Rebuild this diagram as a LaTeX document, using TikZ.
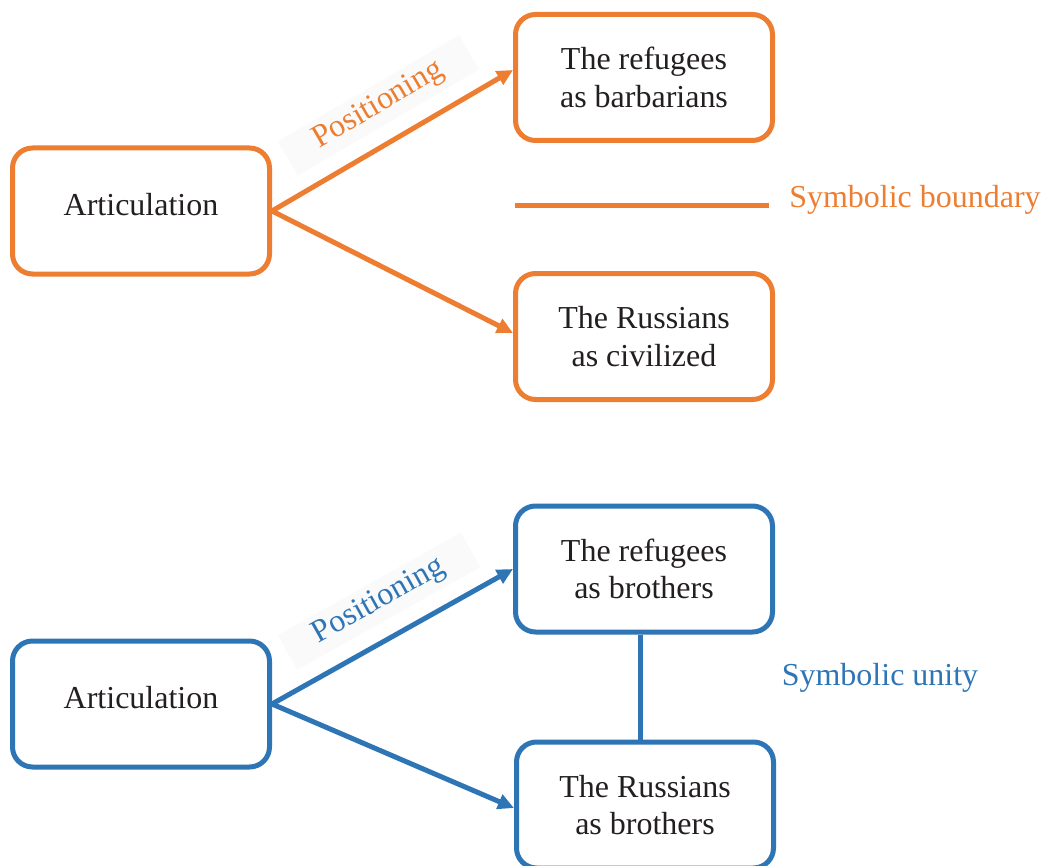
\documentclass[tikz,border=0pt]{standalone}
\usepackage{fontspec}
\setmainfont{Liberation Serif}
\usepackage{xcolor}
\definecolor{orng}{RGB}{237,125,49}
\definecolor{bleu}{RGB}{46,117,182}
\definecolor{txt}{RGB}{35,31,32}
\usetikzlibrary{arrows.meta,positioning}
\tikzset{
  box/.style={rectangle,rounded corners=0.4cm,line width=0.1cm,fill=white,
    minimum width=5.14cm,minimum height=2.52cm,text=txt,align=center,
    font=\fontsize{18.2}{21.5}\selectfont},
  boxor/.style={box,draw=orng},
  boxbl/.style={box,draw=bleu},
  artbox/.style={text depth=0.25cm},
  link/.style={line width=0.1cm,-{Triangle[length=0.32cm,width=0.3cm]}},
  poslabel/.style={sloped,above=0.3cm,pos=0.52,fill=black!2,
    minimum width=4.2cm,minimum height=0.75cm,font=\fontsize{18.2}{21.5}\selectfont},
  sidelabel/.style={font=\fontsize{18.2}{21.5}\selectfont},
}
\begin{document}
\begin{tikzpicture}
  \useasboundingbox (0,0) rectangle (20.92,-17.32);
  % upper part: boundary
  \node[boxor,artbox] (ArtA) at (2.82,-4.22) {Articulation};
  \node[boxor] (RefA) at (12.88,-1.55) {The refugees\\as barbarians};
  \node[boxor] (RusA) at (12.88,-6.73) {The Russians\\as civilized};
  \coordinate (bndL) at (10.30,-4.10);
  \coordinate (bndR) at (15.38,-4.10);
  \node[sidelabel,text=orng] (bnd) at (18.30,-4.00) {Symbolic boundary};
  \draw[link,orng] (ArtA.east) -- node[poslabel,text=orng] {Positioning} ([yshift=0.15cm]RefA.west);
  \draw[link,orng] (ArtA.east) -- ([yshift=0.07cm]RusA.west);
  \draw[orng,line width=0.1cm] (bndL) -- (bndR);
  % lower part: unity
  \node[boxbl,artbox] (ArtB) at (2.82,-14.08) {Articulation};
  \node[boxbl] (RefB) at (12.88,-11.38) {The refugees\\as brothers};
  \node[boxbl] (RusB) at (12.90,-16.10) {The Russians\\as brothers};
  \node[sidelabel,text=bleu] (uni) at (17.60,-13.56) {Symbolic unity};
  \draw[link,bleu] (ArtB.east) -- node[poslabel,text=bleu] {Positioning} (RefB.west);
  \draw[link,bleu] (ArtB.east) -- ([yshift=-0.06cm]RusB.west);
  \draw[bleu,line width=0.1cm] ([xshift=-0.08cm]RefB.south) -- ([xshift=-0.08cm]RefB.south |- RusB.north);
\end{tikzpicture}
\end{document}
